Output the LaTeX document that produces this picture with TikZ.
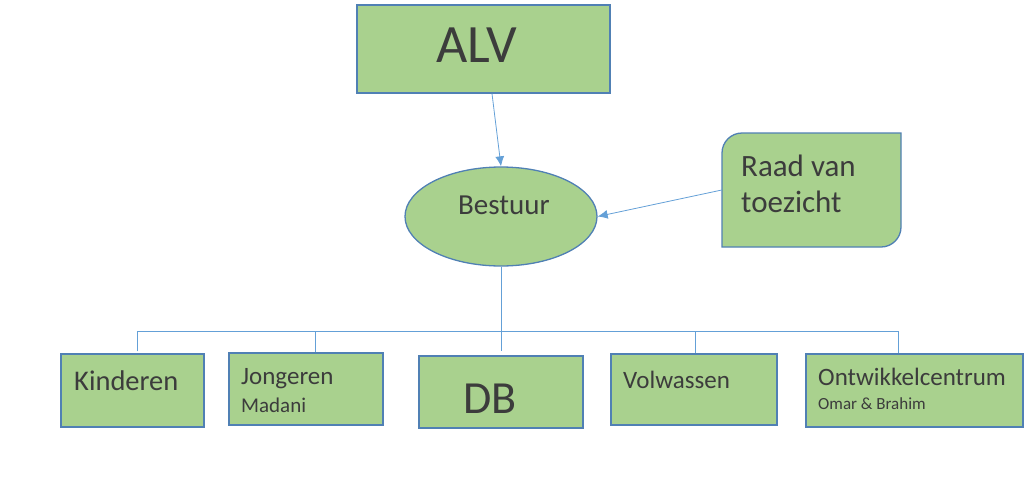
\documentclass[tikz,border=0pt]{standalone}
\usepackage{fontspec}
\setmainfont{Carlito}
\usetikzlibrary{arrows.meta,shapes.geometric}

\begin{document}
\begin{tikzpicture}[x=1pt,y=-1pt]

    % Define colors
    \definecolor{boxgreen}{RGB}{169,209,142}
    \definecolor{boxedge}{RGB}{80,128,180}
    \definecolor{lineblue}{RGB}{100,160,215}
    \definecolor{textgrey}{RGB}{60,60,60}

    \tikzset{
        box/.style={draw=boxedge, fill=boxgreen, line width=1.3pt, inner sep=0pt},
        txt/.style={anchor=base west, inner sep=0pt, text=textgrey},
        conn/.style={draw=lineblue, line width=0.8pt},
        tip/.style={-{Latex[length=10pt,width=9pt]}}
    }

    \useasboundingbox (0,0) rectangle (1024,482);

    \node[box, minimum width=253, minimum height=88] (alv) at (483.5,49) {};
    \node[txt, anchor=base] (alvtext) at (477,62) {\fontsize{54}{64}\selectfont ALV};

    \node[box, ellipse, minimum width=192, minimum height=99] (bestuur) at (501,216.5) {};
    \node[txt] (bestuurtext) at (458,214) {\fontsize{29}{34}\selectfont Bestuur};

    \filldraw[box] (722,190) [rounded corners=20] -- (722,133) [sharp corners] -- (901,133) [rounded corners=20] -- (901,247) [sharp corners] -- (722,247) -- cycle;
    \node[minimum width=179, minimum height=114, inner sep=0pt] (raad) at (811.5,190) {};
    \node[txt] (raadtext) at (741,176) {\fontsize{31}{37}\selectfont Raad van};
    \node[txt] (toezicht) at (741,212) {\fontsize{31}{37}\selectfont toezicht};

    \node[box, minimum width=143, minimum height=73] (kinderen) at (132.5,390.5) {};
    \node[txt] (kindertext) at (74,390) {\fontsize{28.5}{34}\selectfont Kinderen};

    \node[box, minimum width=154, minimum height=72] (jongeren) at (306,389) {};
    \node[txt] (jongtext) at (241,384) {\fontsize{25}{30}\selectfont Jongeren};
    \node[txt] (madani) at (241,412) {\fontsize{21}{25}\selectfont Madani};

    \node[box, minimum width=164, minimum height=72] (db) at (501,392) {};
    \node[txt] (dbtext) at (463,413) {\fontsize{46}{54}\selectfont DB};

    \node[box, minimum width=166, minimum height=71] (volwassen) at (694,389.5) {};
    \node[txt] (volwtext) at (623,388) {\fontsize{25}{30}\selectfont Volwassen};

    \node[box, minimum width=217, minimum height=73] (ontwikkel) at (914.5,390.5) {};
    \node[txt] (ontwtext) at (818,385) {\fontsize{25}{30}\selectfont Ontwikkelcentrum};
    \node[txt] (omar) at (818,409) {\fontsize{17}{20}\selectfont Omar \& Brahim};

    % arrows to Bestuur
    \draw[conn, tip] ([xshift=8.5pt]alv.south) -- (bestuur.north);
    \draw[conn, tip] (raad.west) -- (bestuur.east);

    % tree to the groups
    \coordinate (bus) at (bestuur.south |- 0,331);
    \draw[conn] (bestuur.south) -- ([yshift=4pt]db.north);
    \draw[conn] ([xshift=4.5pt,yshift=2pt]kinderen.north) |- (bus);
    \draw[conn] ([xshift=9pt]jongeren.north) |- (bus);
    \draw[conn] ([xshift=1pt]volwassen.north) |- (bus);
    \draw[conn] ([xshift=-16.5pt]ontwikkel.north) |- (bus);

\end{tikzpicture}
\end{document}
